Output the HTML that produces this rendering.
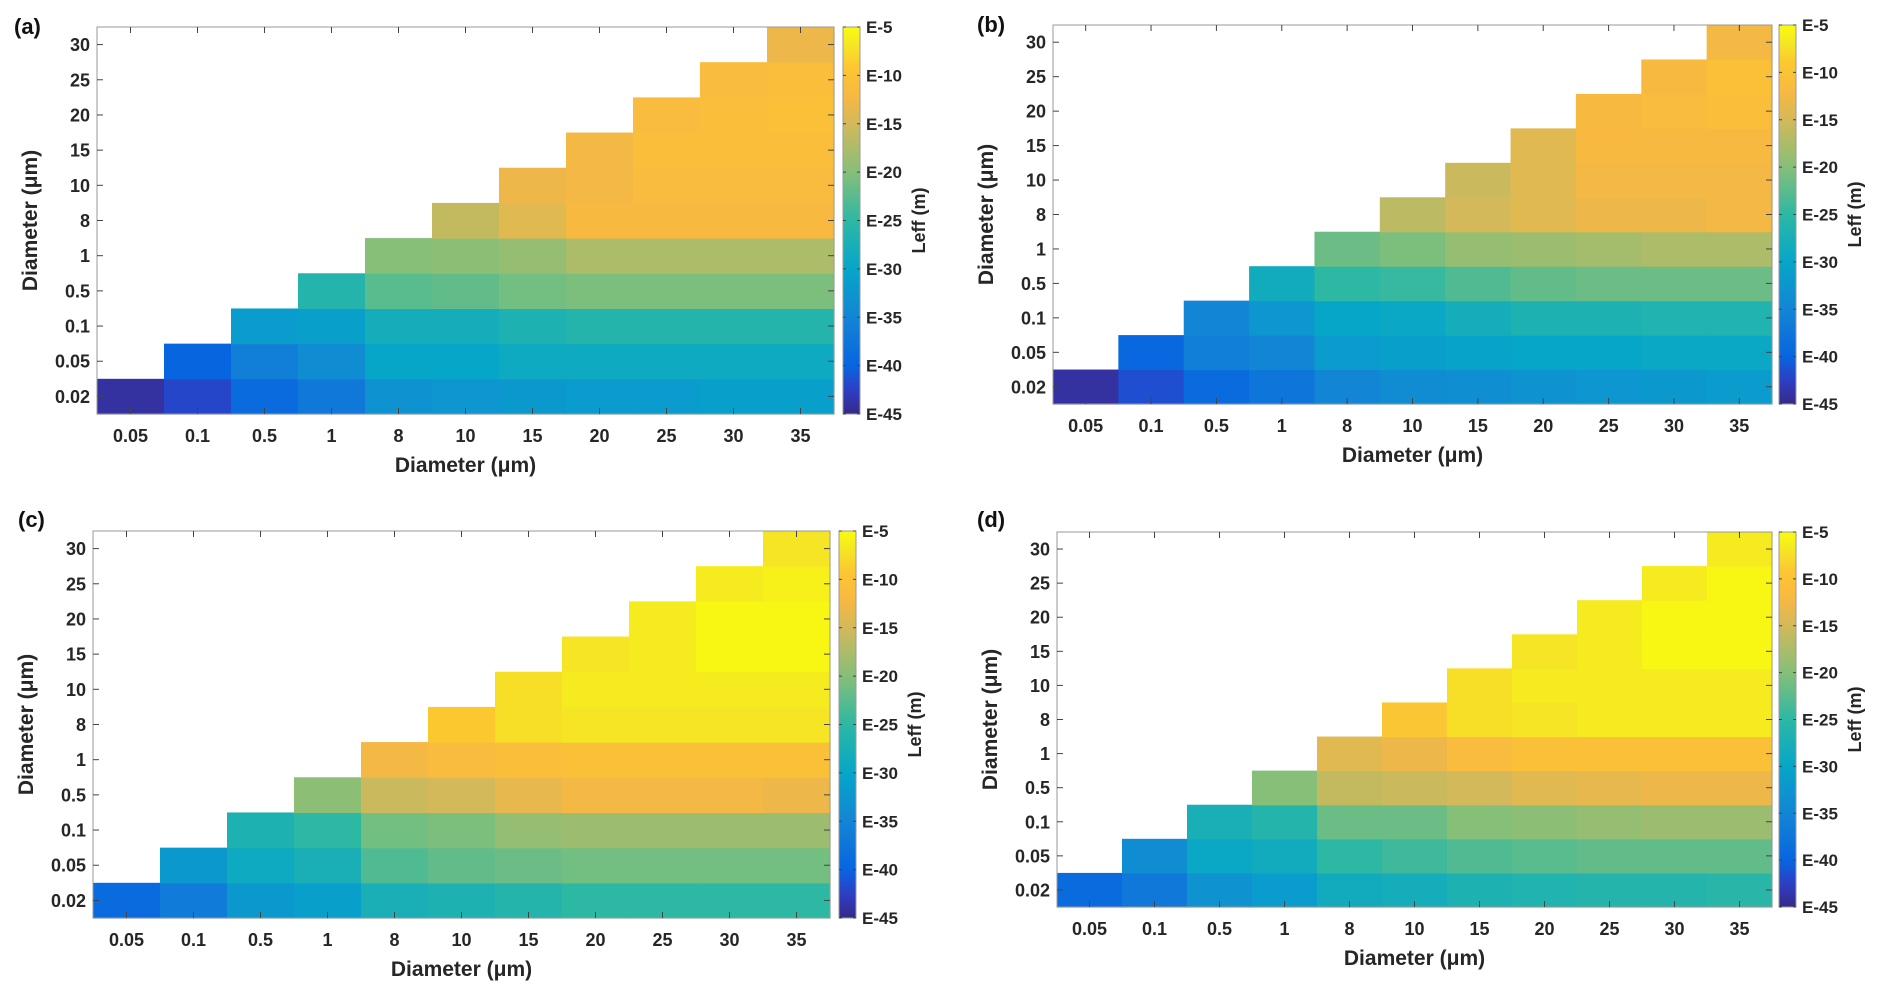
<!DOCTYPE html>
<html><head><meta charset="utf-8"><style>
html,body{margin:0;padding:0;background:#fff;}
svg{display:block;font-family:"Liberation Sans",Arial,sans-serif;font-weight:bold;}
</style></head><body>
<svg id="fig" width="1892" height="1000" viewBox="0 0 1892 1000" xmlns="http://www.w3.org/2000/svg"></svg>
<script>
const categories = ["0.05","0.1","0.5","1","8","10","15","20","25","30","35"];
const rowLabels = ["0.02","0.05","0.1","0.5","1","8","10","15","20","25","30"];
const cbarTicks = [-5,-10,-15,-20,-25,-30,-35,-40,-45];
const cbarTickLabels = ["E-5","E-10","E-15","E-20","E-25","E-30","E-35","E-40","E-45"];
// rows from bottom (0.02) to top (30); row k starts at column k
const panelA = [
 [-44,-42,-39,-37,-33,-32.5,-32,-31.5,-31.5,-31,-31],
 [-40,-36,-34,-30,-30,-29,-29,-29,-29,-29],
 [-31.5,-31,-28,-28,-27,-26,-26,-26,-26],
 [-26,-22.5,-22,-21,-20.5,-20.5,-20.5,-20.5],
 [-20,-19.5,-19,-17.5,-17.5,-17.5,-17.5],
 [-16,-14,-12,-12,-12,-12],
 [-13,-12.5,-11.5,-11.5,-11.5],
 [-12.5,-11,-11,-11],
 [-11.5,-11,-10.5],
 [-11.5,-11],
 [-13]
];
const panelB = [
 [-44,-41.5,-39,-37.5,-35,-34,-33.5,-33,-32.5,-32,-31.5],
 [-39.5,-36,-35,-31.5,-31,-30.5,-30,-30,-29.5,-29.5],
 [-35,-32.5,-30,-29.5,-28,-27,-27,-26.5,-26.5],
 [-28.5,-25,-24.5,-23,-22,-21.5,-21.5,-21.5],
 [-21.5,-20.5,-19,-18.5,-18,-17.5,-17.5],
 [-16.5,-15,-14,-13,-13,-12.5],
 [-15.5,-14,-12.5,-12.5,-12.5],
 [-14,-12,-12,-12],
 [-12,-11.5,-11],
 [-12,-10.5],
 [-12.5]
];
const panelC = [
 [-39,-36.5,-32,-31,-27.5,-27,-26,-25,-25,-25,-25],
 [-32,-29,-27.5,-23,-22,-21.5,-21,-21,-21,-21],
 [-27,-25,-21,-20.5,-19,-18.5,-18.5,-18.5,-18.5],
 [-19.5,-15.5,-15,-13.5,-12.5,-12.5,-12.5,-13],
 [-12.5,-11.5,-11,-10.5,-10.5,-10.5,-10.5],
 [-9,-7.5,-7,-7,-7,-7],
 [-7.5,-6.5,-6.5,-6.5,-6.5],
 [-7,-6.5,-5.5,-5.5],
 [-6.5,-5.5,-5.5],
 [-6.5,-6],
 [-7]
];
const panelD = [
 [-39,-37,-33,-31.5,-28.5,-28,-27,-26.5,-26,-26,-25.5],
 [-34,-29.5,-28.5,-25,-24,-23,-22.5,-22,-22,-22],
 [-27.5,-26,-21.5,-21.5,-20,-19.5,-19,-18.5,-18.5],
 [-20,-16,-15.5,-15,-14,-13.5,-13,-13],
 [-14,-13,-11.5,-10.5,-10.5,-10.5,-10.5],
 [-9.5,-7.5,-7,-6.5,-6.5,-6.5],
 [-7.5,-6.5,-6.5,-6.5,-6.5],
 [-7,-6.5,-5.5,-5.5],
 [-6.5,-5.5,-5.5],
 [-6.5,-5.5],
 [-6.5]
];
const vMin = -45, vMax = -5;

const stops = [[0,"#352a87"],[0.06,"#2f3dc4"],[0.125,"#0865e0"],[0.25,"#1385d5"],[0.375,"#06a6c8"],[0.5,"#2db8a4"],[0.625,"#85bf78"],[0.75,"#d3b95a"],[0.82,"#f8b842"],[0.9,"#fcc830"],[0.95,"#f5e524"],[1,"#f9fb0e"]];
function hex(h){return [1,3,5].map(i=>parseInt(h.substr(i,2),16));}
function cmap(v){
  let t=(v-vMin)/(vMax-vMin); t=Math.max(0,Math.min(1,t));
  for(let i=1;i<stops.length;i++){ if(t<=stops[i][0]){
    const a=stops[i-1],b=stops[i],f=(t-a[0])/(b[0]-a[0]);
    const ca=hex(a[1]),cb=hex(b[1]);
    return "rgb("+ca.map((c,k)=>Math.round(c+(cb[k]-c)*f)).join(",")+")";}}
  return stops[stops.length-1][1];
}
const NS="http://www.w3.org/2000/svg";
const svg=document.getElementById("fig");
function mk(tag,attrs,parent){const e=document.createElementNS(NS,tag);for(const k in attrs)e.setAttribute(k,attrs[k]);(parent||svg).appendChild(e);return e;}

const panels=[
 {id:"a",data:panelA,x0:97,x1:834,y0:27,y1:414,cb0:843,cb1:860,lx:14,ly:34},
 {id:"b",data:panelB,x0:1053,x1:1772,y0:25,y1:404,cb0:1779,cb1:1796,lx:977,ly:32},
 {id:"c",data:panelC,x0:93,x1:830,y0:531,y1:918,cb0:839,cb1:856,lx:18,ly:527},
 {id:"d",data:panelD,x0:1057,x1:1772,y0:532,y1:907,cb0:1779,cb1:1796,lx:977,ly:527}
];
panels.forEach(p=>{
  const g=mk("g",{});
  
  
  const nC=categories.length,nR=rowLabels.length;
  const cw=(p.x1-p.x0)/nC, rh=(p.y1-p.y0)/nR;
  const xS=j=>p.x0+j*cw, yS=i=>p.y1-(i+1)*rh;
  p.data.forEach((row,i)=>{row.forEach((v,k)=>{
    const j=i+k;
    const r=mk("rect",{x:xS(j),y:yS(i),width:cw+0.6,height:rh+0.6,fill:cmap(v)},g);
    
    
  });});
  const fr=mk("rect",{x:p.x0,y:p.y0,width:p.x1-p.x0,height:p.y1-p.y0,fill:"none",stroke:"#9a9a9a","stroke-width":1},g);
  
  
  categories.forEach((c,j)=>{
    const cx=xS(j)+cw/2;
    mk("line",{x1:cx,x2:cx,y1:p.y1,y2:p.y1-6,stroke:"#444","stroke-width":1},g);
    mk("line",{x1:cx,x2:cx,y1:p.y0,y2:p.y0+6,stroke:"#444","stroke-width":1},g);
    const t=mk("text",{x:cx,y:p.y1+28,"text-anchor":"middle","font-size":18,fill:"#262626"},g);
    t.textContent=c;
    
    
  });
  rowLabels.forEach((c,i)=>{
    const cy=yS(i)+rh/2;
    mk("line",{x1:p.x0,x2:p.x0+6,y1:cy,y2:cy,stroke:"#444","stroke-width":1},g);
    mk("line",{x1:p.x1,x2:p.x1-6,y1:cy,y2:cy,stroke:"#444","stroke-width":1},g);
    const t=mk("text",{x:p.x0-7,y:cy+6.5,"text-anchor":"end","font-size":18,fill:"#262626"},g);
    t.textContent=c;
    
    
  });
  const xt=mk("text",{x:(p.x0+p.x1)/2,y:p.y1+58,"text-anchor":"middle","font-size":21,fill:"#262626"},g);
  xt.textContent="Diameter (μm)";
  
  
  const ycx=p.x0-60, ycy=(p.y0+p.y1)/2;
  const yt=mk("text",{x:ycx,y:ycy,"text-anchor":"middle","font-size":21,fill:"#262626",transform:"rotate(-90 "+ycx+" "+ycy+")"},g);
  yt.textContent="Diameter (μm)";
  
  
  const gid="grad"+p.id;
  const defs=mk("defs",{},g);
  const lg=mk("linearGradient",{id:gid,x1:0,y1:1,x2:0,y2:0},defs);
  for(let s=0;s<=40;s++){mk("stop",{offset:(s/40),"stop-color":cmap(vMin+(vMax-vMin)*s/40)},lg);}
  const cb=mk("rect",{x:p.cb0,y:p.y0,width:p.cb1-p.cb0,height:p.y1-p.y0,fill:"url(#"+gid+")",stroke:"#9a9a9a","stroke-width":1},g);
  
  
  const cyS=v=>p.y1-(v-vMin)/(vMax-vMin)*(p.y1-p.y0);
  cbarTicks.forEach((v,i)=>{
    const y=cyS(v);
    mk("line",{x1:p.cb1,x2:p.cb1-3,y1:y,y2:y,stroke:"#444"},g);
    mk("line",{x1:p.cb0,x2:p.cb0+3,y1:y,y2:y,stroke:"#444"},g);
    const t=mk("text",{x:p.cb1+6,y:y+6,"font-size":17,fill:"#262626"},g);
    t.textContent=cbarTickLabels[i];
    
    
  });
  const lx=p.cb1+65, ly=(p.y0+p.y1)/2;
  const lt=mk("text",{x:lx,y:ly,"text-anchor":"middle","font-size":18,fill:"#262626",transform:"rotate(-90 "+lx+" "+ly+")"},g);
  lt.textContent="Leff (m)";
  
  
  const pl=mk("text",{x:p.lx,y:p.ly,"font-size":22,fill:"#111"},g);
  pl.textContent="("+p.id+")";
  
  
});
</script>
</body></html>
